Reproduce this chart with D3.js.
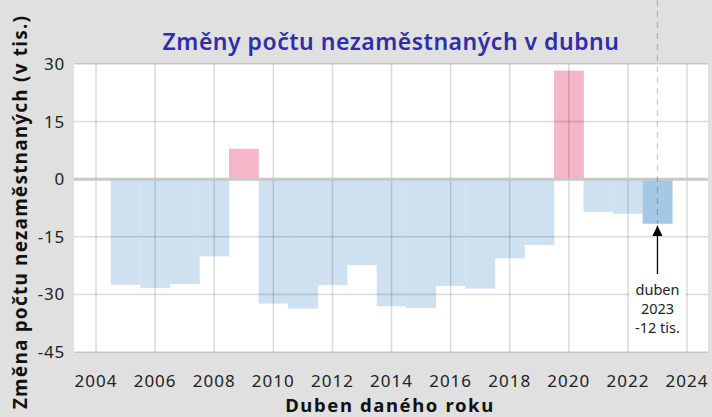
<!DOCTYPE html>
<html>
<head>
<meta charset="utf-8">
<script src="https://cdn.jsdelivr.net/npm/d3@7"></script>
<style>
  body { margin: 0; background: #e0e0e0; }
  svg { display: block; font-family: "Noto Sans", sans-serif; }
</style>
</head>
<body>
<svg width="712" height="417"></svg>
<script>
// roky (duben) a meziroční změny počtu nezaměstnaných v tis.
const years = [2005, 2006, 2007, 2008, 2009, 2010, 2011, 2012, 2013, 2014,
               2015, 2016, 2017, 2018, 2019, 2020, 2021, 2022, 2023];
const changes = [-27.5, -28.3, -27.3, -20.1, 7.9, -32.4, -33.7, -27.6, -22.4, -33.1,
                 -33.5, -27.8, -28.5, -20.6, -17.1, 28.3, -8.5, -9.0, -11.6];
const yTicks = [30, 15, 0, -15, -30, -45];
const xTicks = [2004, 2006, 2008, 2010, 2012, 2014, 2016, 2018, 2020, 2022, 2024];
const highlightYear = 2023;
const noteLines = ["duben", "2023", "-12 tis."];

const data = years.map((y, i) => ({year: y, value: changes[i]}));

const svg = d3.select("svg");
const pL = 74, pR = 708, pT = 64, pB = 352;

const x = d3.scaleLinear().domain([2003.255, 2024.71]).range([pL, pR]);
const y = d3.scaleLinear().domain([-45, 30]).range([pB, pT]);
const bw = x(2005) - x(2004);

svg.append("rect")
    .attr("x", pL).attr("y", pT)
    .attr("width", pR - pL).attr("height", pB - pT)
    .attr("fill", "#fff");

// sloupce
svg.selectAll(".bar")
    .data(data)
    .enter()
    .append("rect")
    .classed("bar", true)
    .attr("x", d => x(d.year) - bw / 2)
    .attr("width", bw + 0.3)
    .attr("y", d => y(Math.max(0, d.value)))
    .attr("height", d => Math.abs(y(d.value) - y(0)))
    .attr("fill", d => d.value > 0 ? "#f5b6c8" : (d.year === highlightYear ? "#a5c9e5" : "#cfe1f0"));

// mřížka přes sloupce
svg.selectAll(".vgrid")
    .data(xTicks)
    .enter()
    .append("line")
    .attr("x1", d => x(d)).attr("x2", d => x(d))
    .attr("y1", pT).attr("y2", pB)
    .attr("stroke", "rgba(0,0,0,0.14)")
    .attr("stroke-width", 1.5);

svg.selectAll(".hgrid")
    .data(yTicks.filter(d => d !== 0))
    .enter()
    .append("line")
    .attr("x1", pL).attr("x2", pR)
    .attr("y1", d => y(d)).attr("y2", d => y(d))
    .attr("stroke", "rgba(0,0,0,0.14)")
    .attr("stroke-width", 1.5);

svg.append("line")
    .attr("x1", pL).attr("x2", pR)
    .attr("y1", y(0)).attr("y2", y(0))
    .attr("stroke", "#c8c8c8")
    .attr("stroke-width", 3);

// popisky os
svg.selectAll(".ytick")
    .data(yTicks)
    .enter()
    .append("text")
    .attr("x", 65)
    .attr("y", d => y(d))
    .attr("dy", "0.35em")
    .attr("text-anchor", "end")
    .attr("font-size", 17)
    .attr("letter-spacing", 0.8)
    .attr("fill", "#222")
    .text(d => d);

svg.selectAll(".xtick")
    .data(xTicks)
    .enter()
    .append("text")
    .attr("x", d => x(d))
    .attr("y", 387)
    .attr("text-anchor", "middle")
    .attr("font-size", 17)
    .attr("letter-spacing", 1)
    .attr("fill", "#222")
    .text(d => d);

svg.append("text")
    .attr("x", 390).attr("y", 412)
    .attr("text-anchor", "middle")
    .attr("font-size", 18.5)
    .attr("font-weight", "bold")
    .attr("letter-spacing", 1.6)
    .attr("fill", "#111")
    .text("Duben daného roku");

svg.append("text")
    .attr("transform", "translate(27,212) rotate(-90)")
    .attr("text-anchor", "middle")
    .attr("font-size", 19)
    .attr("font-weight", "bold")
    .attr("letter-spacing", 1.2)
    .attr("fill", "#111")
    .text("Změna počtu nezaměstnaných (v tis.)");

svg.append("text")
    .attr("x", 391).attr("y", 50)
    .attr("text-anchor", "middle")
    .attr("font-size", 23)
    .attr("font-weight", 600)
    .attr("letter-spacing", 0.5)
    .attr("fill", "#2e2eaa")
    .text("Změny počtu nezaměstnaných v dubnu");

// anotace 2023
const hv = changes[years.indexOf(highlightYear)];
const hx = x(highlightYear);
svg.append("line")
    .attr("x1", hx).attr("x2", hx)
    .attr("y1", 0).attr("y2", y(hv))
    .attr("stroke", "rgba(0,0,0,0.2)")
    .attr("stroke-width", 1.3)
    .attr("stroke-dasharray", "6,5");

svg.append("defs").append("marker")
    .attr("id", "arr")
    .attr("viewBox", "0 0 10 10")
    .attr("refX", 10).attr("refY", 5)
    .attr("markerWidth", 8).attr("markerHeight", 8)
    .attr("orient", "auto")
    .append("path")
    .attr("d", "M0,0 L10,5 L0,10 Z")
    .attr("fill", "#000");

svg.append("line")
    .attr("x1", hx).attr("x2", hx)
    .attr("y1", 274).attr("y2", y(hv) + 2)
    .attr("stroke", "#000")
    .attr("stroke-width", 1.3)
    .attr("marker-end", "url(#arr)");

svg.append("rect")
    .attr("x", hx - 28).attr("y", 281)
    .attr("width", 56).attr("height", 56)
    .attr("fill", "#fff");

svg.selectAll(".note")
    .data(noteLines)
    .enter()
    .append("text")
    .attr("x", hx)
    .attr("y", (d, i) => 295 + i * 19)
    .attr("text-anchor", "middle")
    .attr("font-size", 14.5)
    .attr("fill", "#222")
    .text(d => d);
</script>
</body>
</html>
